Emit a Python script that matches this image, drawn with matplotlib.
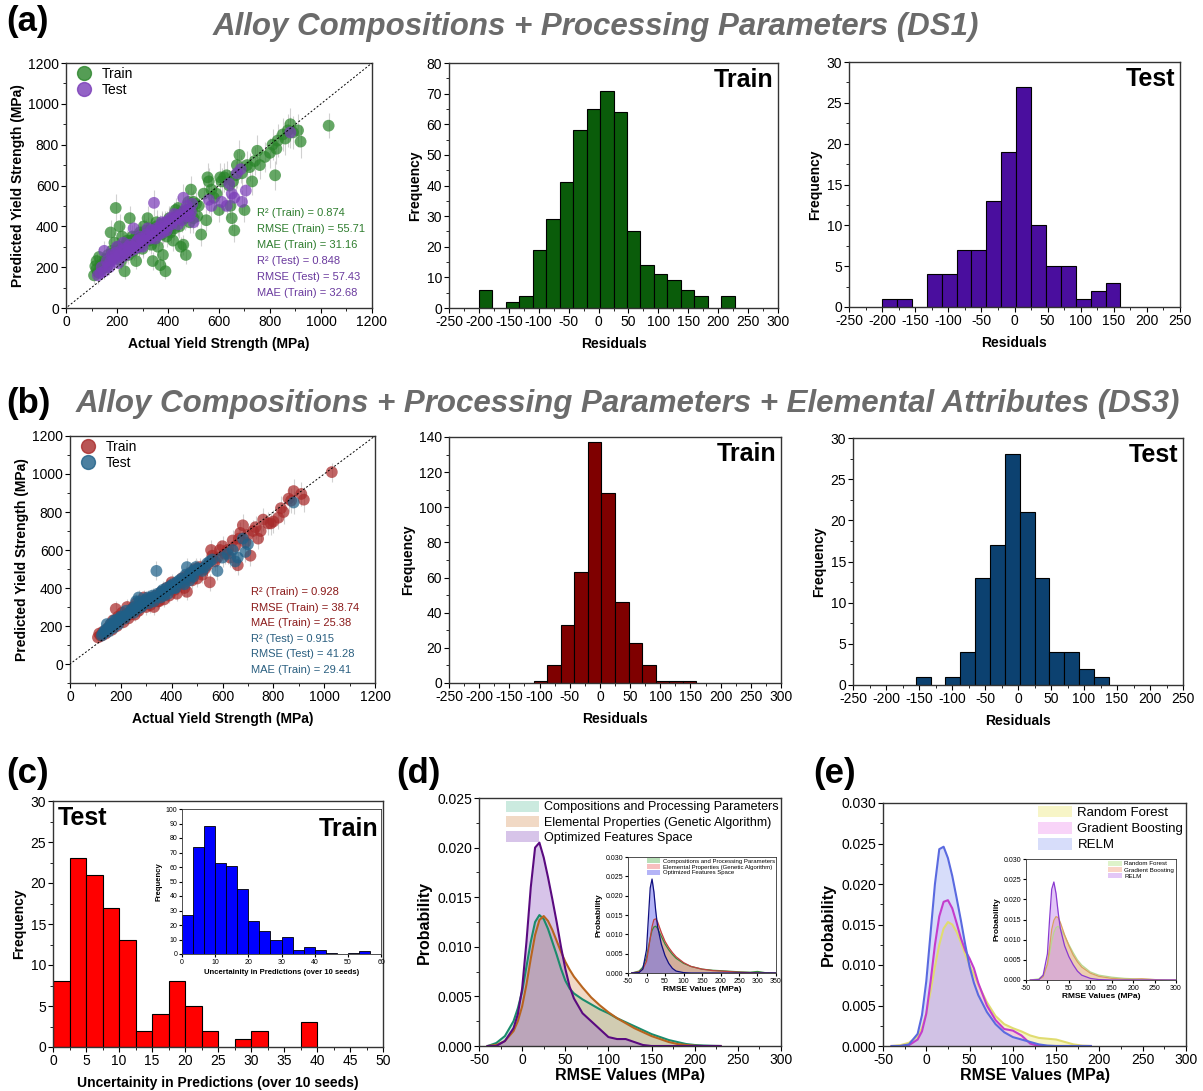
import numpy as np
import matplotlib
matplotlib.use("Agg")
from matplotlib import pyplot as plt
from matplotlib.ticker import MultipleLocator, FormatStrFormatter
from matplotlib.lines import Line2D

plt.rcParams['font.family'] = ['Liberation Sans', 'DejaVu Sans']
plt.rcParams['axes.linewidth'] = 1.0
plt.rcParams['axes.edgecolor'] = '#333333'
plt.rcParams['xtick.direction'] = 'out'
plt.rcParams['ytick.direction'] = 'out'
plt.rcParams['axes.unicode_minus'] = False

W, H = 1203, 1091

# ---------------- data ----------------
# scatter: (actual, predicted, error bar)
a_train = [(110,160,40),(115,205,45),(120,230,40),(125,175,35),(130,250,50),(140,190,40),(150,215,45),(155,240,40),
           (160,200,35),(165,260,50),(170,230,40),(175,370,60),(180,280,45),(185,250,40),(190,320,50),(195,490,70),
           (200,260,45),(205,300,50),(210,400,60),(215,230,40),(220,350,55),(225,270,45),(230,180,40),(235,300,50),
           (240,330,50),(245,260,45),(250,440,60),(255,300,45),(260,350,55),(265,280,45),(270,320,50),(275,230,40),
           (280,340,50),(285,300,45),(290,370,55),(295,330,50),(300,290,45),(305,400,60),(310,350,50),(320,440,60),
           (325,330,50),(330,360,50),(335,310,45),(340,230,45),(345,380,55),(350,340,50),(355,420,60),(360,300,50),
           (365,390,55),(370,210,45),(375,360,50),(380,260,50),(385,400,55),(390,180,40),(395,350,50),(400,380,55),
           (405,440,60),(410,370,50),(420,330,50),(425,420,55),(430,480,60),(440,490,60),(445,400,55),(450,300,50),
           (455,440,55),(460,310,50),(465,470,60),(470,260,45),(480,520,60),(485,420,55),(490,580,65),(500,440,55),
           (510,510,60),(520,500,60),(530,360,55),(540,560,65),(550,430,55),(555,640,70),(560,620,65),(570,580,65),
           (580,540,60),(590,560,65),(600,480,60),(605,640,70),(610,620,65),(620,640,70),(630,650,70),(640,600,65),
           (645,500,60),(650,440,60),(655,620,65),(660,380,55),(665,650,70),(670,700,70),(680,750,75),(690,660,70),
           (700,480,60),(710,700,70),(720,690,70),(730,620,65),(740,720,70),(750,770,75),(760,700,70),(780,740,75),
           (800,760,75),(810,800,75),(820,650,70),(825,780,75),(830,820,80),(850,850,80),(860,830,80),(870,870,80),
           (880,900,80),(890,860,80),(910,870,80),(920,815,80),(1030,893,60),
           (120,190,40),(135,210,40),(145,200,40),(155,220,40),(165,240,45),(175,250,45),(185,270,45),(195,260,45),
           (205,280,45),(215,290,45),(225,300,50),(235,280,45),(245,320,50),(255,330,50),(265,310,45),(275,350,50),
           (285,340,50),(295,360,50),(305,340,50),(315,380,55),(325,370,55),(335,390,55),(345,360,50),(355,400,55),
           (365,370,55),(375,410,55),(385,380,55),(395,420,55),(405,400,55),(415,430,60),(425,390,55),(435,450,60),
           (445,430,60),(455,470,60),(465,440,60),(475,480,60),(485,460,60),(495,490,60),(500,520,60),(515,450,55)]
a_test = [(125,160,40),(135,170,40),(150,280,50),(160,230,45),(170,200,40),(180,260,45),(190,240,45),(200,300,50),
          (205,220,40),(215,280,45),(225,320,50),(235,260,45),(245,300,50),(255,280,45),(265,390,55),(275,320,50),
          (285,300,45),(295,340,50),(305,330,50),(315,360,55),(325,350,50),(335,380,55),(345,515,65),(350,340,50),
          (360,380,55),(370,400,55),(380,370,55),(390,420,55),(400,400,55),(410,440,60),(420,430,55),(430,450,60),
          (440,410,55),(450,460,60),(460,540,65),(470,450,60),(480,480,60),(490,470,60),(500,420,55),(560,530,65),
          (570,500,60),(610,520,60),(630,500,60),(640,610,65),(650,560,65),(660,540,60),(670,660,70),(685,680,70),
          (690,520,60),(705,575,65),(880,860,75),
          (140,200,40),(150,180,40),(165,210,40),(175,230,45),(185,250,45),(195,270,45),(210,260,45),(220,250,45),
          (230,290,45),(240,270,45),(250,310,50),(260,300,50),(270,290,45),(280,330,50),(290,350,50),(300,300,45),
          (310,330,50),(320,390,55),(330,340,50),(340,350,50),(355,390,55),(365,360,55),(375,420,55),(385,390,55),
          (395,380,55),(405,430,60),(415,410,55),(425,460,60),(435,440,60),(445,450,60),(455,430,60),(465,480,60),
          (475,500,60),(485,450,60),(495,510,60)]
b_train = [(110,140,30),(115,160,30),(120,150,30),(130,170,30),(140,160,30),(150,190,30),(160,210,30),(165,180,30),
           (170,230,35),(180,290,40),(185,200,30),(190,250,35),(200,240,35),(205,270,35),(210,220,30),(220,260,35),
           (225,300,40),(230,240,35),(240,280,35),(250,300,40),(255,260,35),(260,320,40),(270,280,35),(280,300,40),
           (290,350,40),(295,320,40),(300,300,40),(310,330,40),(320,340,40),(330,300,40),(340,360,40),(350,330,40),
           (360,380,40),(370,340,40),(380,400,45),(390,360,40),(400,430,45),(410,390,45),(420,370,40),(430,420,45),
           (440,450,45),(450,400,45),(460,380,45),(470,470,45),(480,440,45),(490,500,50),(500,450,45),(510,510,50),
           (520,470,45),(530,500,50),(540,520,50),(550,430,45),(555,600,55),(560,570,50),(570,540,50),(580,560,50),
           (590,600,55),(600,620,55),(610,580,55),(620,600,55),(630,560,50),(640,650,55),(650,620,55),(660,520,50),
           (665,660,55),(670,690,55),(680,730,60),(690,640,55),(700,680,60),(710,570,55),(720,700,60),(730,720,60),
           (740,660,55),(750,700,60),(760,760,60),(780,740,60),(790,740,60),(800,750,60),(820,770,60),(830,820,65),
           (840,800,65),(860,870,65),(870,860,65),(880,910,65),(910,895,65),(920,865,65),(1030,1010,50),
           (125,150,30),(135,165,30),(145,180,30),(155,195,30),(175,210,30),(195,225,35),(215,245,35),(235,260,35),
           (245,290,35),(265,300,40),(275,310,40),(285,320,40),(305,320,40),(315,310,40),(325,350,40),(335,340,40),
           (345,330,40),(355,370,40),(365,360,40),(375,380,45),(385,390,45),(395,410,45),(405,400,45),(415,420,45),
           (425,410,45),(435,430,45),(445,440,45),(455,460,45),(465,450,45),(475,480,45),(485,470,45),(495,480,50),
           (505,490,50),(515,500,50)]
b_test = [(125,150,30),(135,170,30),(145,210,35),(155,190,30),(165,200,30),(175,230,35),(185,220,35),(195,240,35),
          (210,250,35),(220,280,35),(235,270,35),(245,290,40),(260,330,40),(270,350,40),(280,300,40),(290,320,40),
          (300,340,40),(310,320,40),(320,350,40),(330,330,40),(340,490,50),(350,360,40),(360,380,45),(370,360,40),
          (380,400,45),(390,390,45),(400,410,45),(410,400,45),(420,430,45),(440,450,45),(450,420,45),(460,510,50),
          (470,440,45),(480,470,45),(490,490,50),(500,500,50),(520,490,50),(540,530,50),(560,550,50),(580,490,50),
          (600,560,50),(620,580,55),(640,600,55),(650,540,50),(660,560,50),(680,660,55),(690,590,55),(700,630,55),
          (880,850,60),
          (130,160,30),(140,180,30),(150,170,30),(160,210,30),(170,190,30),(180,230,35),(190,210,35),(200,250,35),
          (215,240,35),(225,260,35),(240,280,35),(250,270,40),(255,300,40),(265,290,40),(275,330,40),(285,310,40),
          (295,330,40),(305,350,40),(315,340,40),(325,360,40),(335,350,40),(345,370,40),(355,350,40),(365,390,45),
          (375,380,45),(385,370,45),(395,410,45),(405,420,45),(415,400,45),(430,440,45),(445,430,45),(455,470,45),
          (465,460,45),(475,480,45),(485,460,45),(495,510,50),(510,500,50),(530,510,50),(550,540,50)]

a_metrics_train = ["R² (Train) = 0.874", "RMSE (Train) = 55.71", "MAE (Train) = 31.16"]
a_metrics_test = ["R² (Test) = 0.848", "RMSE (Test) = 57.43", "MAE (Train) = 32.68"]
b_metrics_train = ["R² (Train) = 0.928", "RMSE (Train) = 38.74", "MAE (Train) = 25.38"]
b_metrics_test = ["R² (Test) = 0.915", "RMSE (Test) = 41.28", "MAE (Train) = 29.41"]

# residual histograms (bins start at -200, width 22.5)
res_start, res_width = -200, 22.5
a_res_train = [6, 0, 2, 4, 19, 29, 41, 58, 65, 71, 64, 25, 14, 11, 9, 6, 4, 0, 4]
a_res_test = [1, 1, 0, 4, 4, 7, 7, 13, 19, 27, 10, 5, 5, 1, 2, 3, 0, 0, 0]
b_res_train = [0, 0, 0, 0, 1, 10, 33, 63, 137, 108, 46, 23, 10, 1, 1, 1, 0, 0, 0]
b_res_test = [0, 0, 1, 0, 1, 4, 13, 17, 28, 21, 13, 4, 4, 2, 1, 0, 0, 0, 0]

# uncertainty histograms
unc_test_width = 2.5
unc_test = [8, 23, 21, 17, 13, 2, 4, 8, 5, 2, 0, 1, 2, 0, 0, 3]
unc_train_width = 10 / 3
unc_train = [27, 74, 88, 63, 61, 45, 23, 16, 10, 12, 3, 5, 3, 1, 0, 1, 2]

# RMSE density curves, panel (d)
d_x = [-40, -30, -20, -10, -5, 0, 5, 10, 15, 20, 25, 30, 35, 40, 45, 50, 55, 60, 70, 80, 90, 100,
       110, 120, 130, 140, 150, 160, 170, 180, 190, 200, 210, 220, 230]
d_comp = [0, 0.0003, 0.0010, 0.0025, 0.0038, 0.0055, 0.0080, 0.0105, 0.0125, 0.0132, 0.0128, 0.0118,
          0.0105, 0.0092, 0.0078, 0.0066, 0.0058, 0.0053, 0.0047, 0.0042, 0.0037, 0.0033, 0.0028, 0.0024,
          0.0020, 0.0016, 0.0012, 0.0009, 0.0006, 0.0004, 0.0002, 0.0001, 0.00005, 0.00002, 0]
d_elem = [0, 0.0001, 0.0005, 0.0015, 0.0025, 0.0040, 0.0062, 0.0088, 0.0112, 0.0127, 0.0131, 0.0126,
          0.0117, 0.0106, 0.0095, 0.0085, 0.0077, 0.0070, 0.0059, 0.0049, 0.0041, 0.0034, 0.0028, 0.0023,
          0.0018, 0.0014, 0.0010, 0.0007, 0.0004, 0.0002, 0.0001, 0.00003, 0, 0, 0]
d_opt = [0, 0, 0.0005, 0.0018, 0.0032, 0.0058, 0.0105, 0.0160, 0.0200, 0.0205, 0.0190, 0.0170,
         0.0148, 0.0125, 0.0100, 0.0078, 0.0060, 0.0048, 0.0033, 0.0025, 0.0017, 0.0009, 0.0007, 0.0007,
         0.0004, 0.0001, 0, 0, 0, 0, 0, 0, 0, 0, 0]
d_in_x = [-40, -20, -10, 0, 5, 10, 15, 20, 25, 30, 40, 50, 60, 70, 80, 100, 120, 150, 180, 200, 250,
          280, 300, 320, 350]
d_in_comp = [0, 0.0005, 0.0015, 0.004, 0.0065, 0.009, 0.011, 0.0119, 0.0121, 0.0115, 0.0095, 0.0075,
             0.006, 0.0048, 0.0038, 0.0025, 0.0017, 0.001, 0.0007, 0.0006, 0.0003, 0.0002, 0.0004, 0.0001, 0]
d_in_elem = [0, 0.0003, 0.001, 0.003, 0.0058, 0.009, 0.012, 0.0138, 0.014, 0.0132, 0.0105, 0.0082,
             0.0066, 0.0053, 0.0042, 0.0027, 0.0017, 0.001, 0.0006, 0.0005, 0.0002, 0.0001, 0.00005, 0, 0]
d_in_opt = [0, 0.0001, 0.001, 0.006, 0.014, 0.022, 0.0243, 0.021, 0.016, 0.012, 0.0075, 0.0045,
            0.0025, 0.0012, 0.0005, 0.0001, 0, 0, 0, 0, 0, 0, 0, 0, 0]

# RMSE density curves, panel (e)
e_x = [-40, -30, -20, -10, -5, 0, 5, 10, 15, 20, 25, 30, 35, 40, 45, 50, 55, 60, 70, 80, 90, 100,
       110, 120, 130, 140, 150, 160, 170, 180, 190]
e_rf = [0, 0.0001, 0.0004, 0.0012, 0.0022, 0.0040, 0.0068, 0.0098, 0.0125, 0.0145, 0.0153, 0.0150,
        0.0141, 0.0128, 0.0113, 0.0100, 0.0088, 0.0076, 0.0054, 0.0037, 0.0027, 0.0022, 0.0018, 0.0013,
        0.0010, 0.0009, 0.0008, 0.0005, 0.0002, 0.00005, 0]
e_gb = [0, 0, 0.0001, 0.0008, 0.0018, 0.0040, 0.0080, 0.0125, 0.0160, 0.0178, 0.0180, 0.0170,
        0.0152, 0.0133, 0.0118, 0.0108, 0.0096, 0.0078, 0.0050, 0.0032, 0.0021, 0.0019, 0.0013, 0.0003,
        0, 0, 0, 0, 0, 0, 0]
e_relm = [0, 0, 0.0002, 0.0015, 0.0038, 0.0080, 0.0140, 0.0200, 0.0243, 0.0246, 0.0232, 0.0210,
          0.0183, 0.0155, 0.0125, 0.0098, 0.0078, 0.0063, 0.0042, 0.0027, 0.0017, 0.0011, 0.0008, 0.0005,
          0.0002, 0.00005, 0, 0, 0, 0, 0]
e_in_x = [-40, -20, -10, 0, 5, 10, 15, 20, 25, 30, 40, 50, 60, 70, 80, 100, 120, 150, 180, 200, 220,
          250, 280, 300]
e_in_rf = [0, 0.0003, 0.0012, 0.0038, 0.0065, 0.0095, 0.0118, 0.013, 0.0133, 0.0128, 0.011, 0.0088,
           0.0068, 0.005, 0.0037, 0.002, 0.0012, 0.0007, 0.0004, 0.0003, 0.0002, 0.0001, 0, 0]
e_in_gb = [0, 0.0001, 0.0008, 0.004, 0.008, 0.0125, 0.0148, 0.0157, 0.0155, 0.0143, 0.0112, 0.0085,
           0.0062, 0.0045, 0.0032, 0.0017, 0.0009, 0.0004, 0.0002, 0.0002, 0.0003, 0.0001, 0, 0]
e_in_relm = [0, 0.0001, 0.0012, 0.0065, 0.015, 0.0225, 0.0243, 0.0215, 0.0168, 0.0128, 0.0085, 0.0058,
             0.0038, 0.0022, 0.0012, 0.0004, 0.0001, 0, 0, 0, 0, 0, 0, 0]


# ---------------- helpers ----------------
def box(l, t, r, b):
    return [l / W, 1 - b / H, (r - l) / W, (b - t) / H]


def ftext(x, y, s, **kw):
    fig.text(x / W, 1 - y / H, s, **kw)


def style(ax, fs=10, major=3.5, minor=2):
    ax.tick_params(which='major', labelsize=fs, length=major, width=0.8, pad=1.5)
    ax.tick_params(which='minor', length=minor, width=0.6)
    for s in ax.spines.values():
        s.set_linewidth(1.0)


def scatter_panel(ax, train, test, c_tr, c_te, tc_tr, tc_te, m_tr, m_te, tx, ty0, dy):
    for pts, col in [(train, c_tr), (test, c_te)]:
        xs = [p[0] for p in pts]
        ys = [p[1] for p in pts]
        es = [p[2] for p in pts]
        ax.errorbar(xs, ys, yerr=es, fmt='none', ecolor='#9a9a9a', elinewidth=0.8, alpha=0.45, zorder=1)
        ax.scatter(xs, ys, s=72, color=col, alpha=0.72, edgecolors='none', zorder=2)
    ax.plot([-100, 1200], [-100, 1200], color='k', ls=(0, (2, 2)), lw=0.7, zorder=3)
    ax.set_xlim(0, 1200)
    ax.xaxis.set_major_locator(MultipleLocator(200))
    ax.xaxis.set_minor_locator(MultipleLocator(100))
    ax.yaxis.set_major_locator(MultipleLocator(200))
    ax.yaxis.set_minor_locator(MultipleLocator(100))
    ax.set_xlabel('Actual Yield Strength (MPa)', fontsize=10, fontweight='bold', labelpad=6)
    ax.set_ylabel('Predicted Yield Strength (MPa)', fontsize=10, fontweight='bold', labelpad=2)
    style(ax)
    h = [Line2D([], [], ls='none', marker='o', ms=10, color=c_tr, alpha=0.8),
         Line2D([], [], ls='none', marker='o', ms=10, color=c_te, alpha=0.8)]
    ax.legend(h, ['Train', 'Test'], loc='upper left', frameon=False, fontsize=10,
              handletextpad=0.3, labelspacing=0.15, borderaxespad=0.1, borderpad=0.2)
    lines = [(s, tc_tr) for s in m_tr] + [(s, tc_te) for s in m_te]
    for i, (s, col) in enumerate(lines):
        ftext(tx, ty0 + i * dy, s, fontsize=8, color=col, va='center', ha='left')


def res_hist(ax, counts, color, xmax, ymax, ystep, label):
    lefts = [res_start + i * res_width for i in range(len(counts))]
    keep = [i for i, c in enumerate(counts) if c > 0]
    ax.bar([lefts[i] for i in keep], [counts[i] for i in keep], width=res_width, align='edge',
           color=color, edgecolor='black', linewidth=0.8)
    ax.set_xlim(-250, xmax)
    ax.set_ylim(0, ymax)
    ax.xaxis.set_major_locator(MultipleLocator(50))
    ax.xaxis.set_minor_locator(MultipleLocator(25))
    ax.yaxis.set_major_locator(MultipleLocator(ystep))
    ax.yaxis.set_minor_locator(MultipleLocator(ystep / 2))
    ax.set_xlabel('Residuals', fontsize=10, fontweight='bold', labelpad=6)
    ax.set_ylabel('Frequency', fontsize=10, fontweight='bold', labelpad=3)
    style(ax)
    ax.text(0.985, 0.93, label, transform=ax.transAxes, ha='right', va='center',
            fontsize=18, fontweight='bold')


def density(ax, x, curves, lw=1.5):
    for y, fill, line, alpha, lab in curves:
        ax.fill_between(x, y, color=fill, alpha=alpha, lw=0, label=lab)
        ax.plot(x, y, color=line, lw=lw)


def rmse_axes(ax, xmax, ymax, fs, inset=False):
    ax.set_xlim(-50, xmax)
    ax.set_ylim(0, ymax)
    ax.xaxis.set_major_locator(MultipleLocator(50))
    ax.yaxis.set_major_locator(MultipleLocator(0.005))
    ax.yaxis.set_major_formatter(FormatStrFormatter('%.3f'))
    if inset:
        ax.set_xlabel('RMSE Values (MPa)', fontsize=6, fontweight='bold', labelpad=1)
        ax.set_ylabel('Probability', fontsize=6, fontweight='bold', labelpad=2)
        style(ax, fs=5, major=2, minor=1)
        for s in ax.spines.values():
            s.set_linewidth(0.6)
    else:
        ax.xaxis.set_minor_locator(MultipleLocator(25))
        ax.yaxis.set_minor_locator(MultipleLocator(0.0025))
        ax.set_xlabel('RMSE Values (MPa)', fontsize=fs, fontweight='bold', labelpad=1)
        ax.set_ylabel('Probability', fontsize=fs, fontweight='bold', labelpad=4)
        style(ax)


fig = plt.figure(figsize=(W / 100, H / 100), dpi=100)

title_kw = dict(fontsize=22.5, fontweight='bold', fontstyle='italic', color='#6b6b6b', va='center', ha='center')
letter_kw = dict(fontsize=25, fontweight='bold', va='center')
ftext(6, 22, '(a)', **letter_kw)
ftext(596, 27, 'Alloy Compositions + Processing Parameters (DS1)', **title_kw)
ftext(6, 404, '(b)', **letter_kw)
ftext(628, 404, 'Alloy Compositions + Processing Parameters + Elemental Attributes (DS3)', **title_kw)
ftext(6, 773, '(c)', **letter_kw)
ftext(396, 773, '(d)', **letter_kw)
ftext(813, 773, '(e)', **letter_kw)

# ----- row (a) -----
ax = fig.add_axes(box(66, 63, 372, 308))
scatter_panel(ax, a_train, a_test, '#2a852a', '#7a3db8', '#2e7d2e', '#6a3a9e',
              a_metrics_train, a_metrics_test, 257, 213, 16)
ax.set_ylim(0, 1200)

ax = fig.add_axes(box(449, 63, 778, 308))
res_hist(ax, a_res_train, '#0a5c0a', 300, 80, 10, 'Train')
ax = fig.add_axes(box(849, 62, 1180, 307))
res_hist(ax, a_res_test, '#4a0e9e', 250, 30, 5, 'Test')

# ----- row (b) -----
ax = fig.add_axes(box(70, 436, 375, 683))
scatter_panel(ax, b_train, b_test, '#a82a2a', '#1f6088', '#8b1a1a', '#2a5f80',
              b_metrics_train, b_metrics_test, 251, 592, 15.6)
ax.set_ylim(-100, 1200)

ax = fig.add_axes(box(449, 437, 781, 683))
res_hist(ax, b_res_train, '#7f0000', 300, 140, 20, 'Train')
ax = fig.add_axes(box(853, 438, 1183, 685))
res_hist(ax, b_res_test, '#0c4170', 250, 30, 5, 'Test')

# ----- panel (c) -----
ax = fig.add_axes(box(53, 801, 383, 1047))
ax.bar([i * unc_test_width for i in range(len(unc_test)) if unc_test[i] > 0],
       [c for c in unc_test if c > 0], width=unc_test_width, align='edge',
       color='#ff0000', edgecolor='black', linewidth=0.8)
ax.set_xlim(0, 50)
ax.set_ylim(0, 30)
ax.xaxis.set_major_locator(MultipleLocator(5))
ax.xaxis.set_minor_locator(MultipleLocator(2.5))
ax.yaxis.set_major_locator(MultipleLocator(5))
ax.yaxis.set_minor_locator(MultipleLocator(2.5))
ax.set_xlabel('Uncertainity in Predictions (over 10 seeds)', fontsize=10, fontweight='bold', labelpad=6)
ax.set_ylabel('Frequency', fontsize=10, fontweight='bold', labelpad=3)
style(ax)
ax.text(0.015, 0.93, 'Test', transform=ax.transAxes, ha='left', va='center', fontsize=18, fontweight='bold')
ax.text(0.985, 0.885, 'Train', transform=ax.transAxes, ha='right', va='center', fontsize=18, fontweight='bold')

axi = fig.add_axes(box(182, 809, 381, 954))
axi.patch.set_alpha(0)
axi.bar([i * unc_train_width for i in range(len(unc_train)) if unc_train[i] > 0],
        [c for c in unc_train if c > 0], width=unc_train_width, align='edge',
        color='#0000ff', edgecolor='black', linewidth=0.6)
axi.set_xlim(0, 60)
axi.set_ylim(0, 100)
axi.xaxis.set_major_locator(MultipleLocator(10))
axi.yaxis.set_major_locator(MultipleLocator(10))
axi.set_xlabel('Uncertainity in Predictions (over 10 seeds)', fontsize=5.5, fontweight='bold', labelpad=2)
axi.set_ylabel('Frequency', fontsize=5.5, fontweight='bold', labelpad=2)
style(axi, fs=5, major=2, minor=1)
for s in axi.spines.values():
    s.set_linewidth(0.6)

# ----- panel (d) -----
ax = fig.add_axes(box(479, 798, 781, 1046))
density(ax, d_x, [(d_comp, '#7fcbb0', '#1a8c6c', 0.4, 'Compositions and Processing Parameters'),
                  (d_elem, '#dca070', '#b8641e', 0.4, 'Elemental Properties (Genetic Algorithm)'),
                  (d_opt, '#9c6cc8', '#5a0a80', 0.4, 'Optimized Features Space')])
rmse_axes(ax, 300, 0.025, 11.5)
ax.legend(loc='upper right', frameon=False, fontsize=9, handlelength=2.6, handleheight=1.0,
          labelspacing=0.2, handletextpad=0.4, borderaxespad=0.1, borderpad=0.1)

axi = fig.add_axes(box(628, 857, 776, 973))
density(axi, d_in_x, [(d_in_comp, '#70c070', '#3a8a3a', 0.5, 'Compositions and Processing Parameters'),
                      (d_in_elem, '#f08080', '#c04040', 0.5, 'Elemental Properties (Genetic Algorithm)'),
                      (d_in_opt, '#6a6af0', '#101080', 0.5, 'Optimized Features Space')], lw=0.9)
rmse_axes(axi, 350, 0.030, 6, inset=True)
axi.legend(loc='upper right', frameon=False, fontsize=4.3, handlelength=2.2, handleheight=0.8,
           labelspacing=0.1, handletextpad=0.4, borderaxespad=0.1, borderpad=0.1)

# ----- panel (e) -----
ax = fig.add_axes(box(883, 803, 1186, 1046))
density(ax, e_x, [(e_rf, '#f0ec90', '#e0dc70', 0.5, 'Random Forest'),
                  (e_gb, '#f0a0f0', '#c43ccc', 0.45, 'Gradient Boosting'),
                  (e_relm, '#a8b4f4', '#5a6ae0', 0.45, 'RELM')])
rmse_axes(ax, 300, 0.030, 11.5)
ax.legend(loc='upper right', frameon=False, fontsize=9.5, handlelength=2.6, handleheight=1.0,
          labelspacing=0.2, handletextpad=0.4, borderaxespad=0.1, borderpad=0.1)

axi = fig.add_axes(box(1026, 859, 1176, 980))
density(axi, e_in_x, [(e_in_rf, '#c8eca8', '#b8d890', 0.6, 'Random Forest'),
                      (e_in_gb, '#f8b8a0', '#d8a060', 0.6, 'Gradient Boosting'),
                      (e_in_relm, '#c890f0', '#8a3ad0', 0.5, 'RELM')], lw=0.9)
rmse_axes(axi, 300, 0.030, 6, inset=True)
axi.legend(loc='upper right', frameon=False, fontsize=4.5, handlelength=2.2, handleheight=0.8,
           labelspacing=0.1, handletextpad=0.4, borderaxespad=0.2, borderpad=0.1)

fig.savefig('out.png', dpi=100, facecolor='white')
